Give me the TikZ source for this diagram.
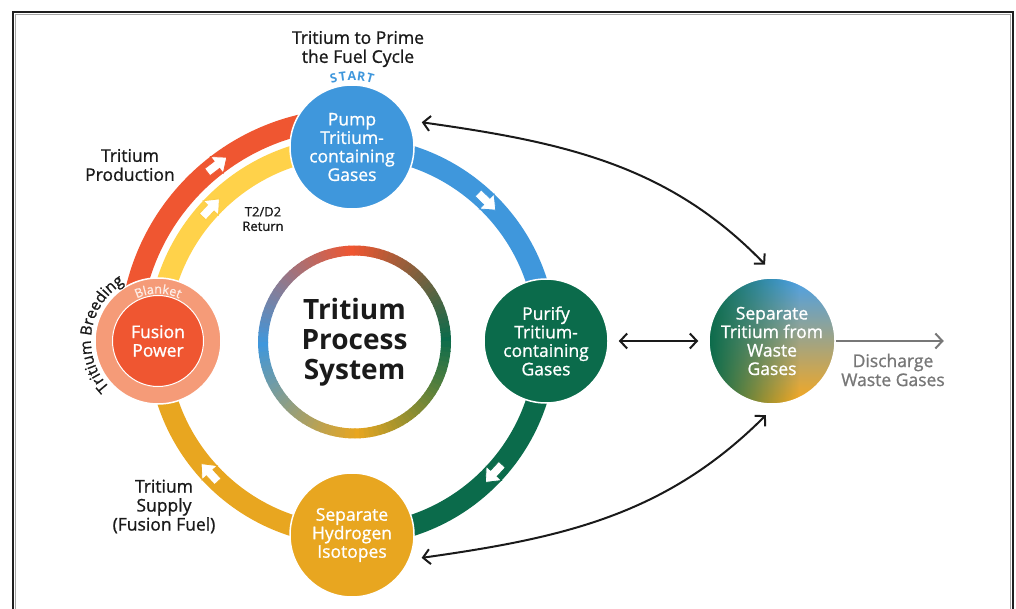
\documentclass[tikz,border=0pt]{standalone}
\usepackage{fontspec}
\setmainfont{Open Sans}
\newfontfamily\medfont{Open Sans}[FakeBold=1.0]
\newcommand\breedfont{\medfont\fontsize{15.5}{15.5}\selectfont}
\newcommand\blanketfont{\medfont\fontsize{12.5}{12.5}\selectfont}
\usetikzlibrary{arrows.meta,positioning,fadings,decorations.text}

\definecolor{tblue}{HTML}{3F97DC}
\definecolor{tgreen}{HTML}{0B6B4B}
\definecolor{tgold}{HTML}{E8A620}
\definecolor{tred}{HTML}{EF5631}
\definecolor{tpeach}{HTML}{F59B78}
\definecolor{tyellow}{HTML}{FFD24A}
\definecolor{tsky}{HTML}{4AA0E8}
\definecolor{torange}{HTML}{F8A81E}
\definecolor{tgray}{HTML}{777777}
\definecolor{tink}{HTML}{1A1A1A}

\tikzset{
  stage/.style={circle, minimum size=124pt, inner sep=0pt, draw=white, line width=1.5pt,
    text=white, align=center, font=\medfont\fontsize{17.5}{18.5}\selectfont},
  band/.style={line width=21pt, color=#1},
  note/.style={align=center, inner sep=0pt, text=tink, font=\medfont\fontsize{17.5}{19}\selectfont},
  link/.style={line width=2pt, draw=tink, {Straight Barb[length=7pt,width=15pt]}-{Straight Barb[length=7pt,width=15pt]}},
  pics/flowmark/.style={code={
    \filldraw[fill=white, draw=#1, line width=0.8pt] (-12,-4.5) -- (0,-4.5) -- (0,-10.5) -- (12.5,0)
      -- (0,10.5) -- (0,4.5) -- (-12,4.5) -- cycle;}},
}

\begin{document}
\begin{tikzpicture}[x=1pt, y=1pt]
  \useasboundingbox (0,0) rectangle (1016,608);
  % frame
  \draw[line width=2.5pt, black!88] (13,596) rectangle (1013,-20);
  \draw[line width=0.8pt, black!35] (15.2,593.8) rectangle (1010.8,-20);

  \coordinate (c) at (352,267);

  % cycle bands
  \draw[band=tblue] ([shift={(90:194)}]c) arc[start angle=90, end angle=0, radius=194];
  \draw[band=tgreen] ([shift={(0:194)}]c) arc[start angle=0, end angle=-90, radius=194];
  \draw[band=tgold] ([shift={(-90:194)}]c) arc[start angle=-90, end angle=-180, radius=194];
  \draw[band=tyellow] ([shift={(180:194)}]c) arc[start angle=180, end angle=90, radius=194];
  \draw[band=tred] ([shift={(172:222)}]c) arc[start angle=172, end angle=86, radius=222];

  % flow markers
  \pic[rotate=37.5] at ([shift={(127.5:222)}]c) {flowmark=tred};
  \pic[rotate=46.7] at ([shift={(136.7:194)}]c) {flowmark=tyellow!85!tgold};
  \pic[rotate=-44] at ([shift={(46:194)}]c) {flowmark=tblue};
  \pic[rotate=-133] at ([shift={(-43:194)}]c) {flowmark=tgreen};
  \pic[rotate=132.8] at ([shift={(222.8:194)}]c) {flowmark=tgold};

  % stations
  \node[stage, fill=tblue] (pump) at ([shift={(90:194)}]c) {Pump\\Tritium-\\containing\\Gases};
  \node[stage, fill=tgreen] (purify) at ([shift={(0:194)}]c) {Purify\\Tritium-\\containing\\Gases};
  \node[stage, fill=tgold] (hyd) at ([shift={(-90:194)}]c) {Separate\\Hydrogen\\Isotopes};
  \node[stage, minimum size=126pt, fill=tpeach] (blanket) at ([shift={(180:194)}]c) {};
  \node[stage, minimum size=91pt, fill=tred, line width=1pt] (fusion) at (blanket) {Fusion\\Power};
  \node[stage, minimum size=126pt, path picture={
      \shade[top color=tsky, bottom color=torange] (path picture bounding box.south west)
        rectangle (path picture bounding box.north east);
      \fill[tgreen, path fading=east] (path picture bounding box.south west)
        rectangle ([xshift=-36pt]path picture bounding box.north east);}]
    (septri) at (772,267) {Separate\\Tritium from\\Waste\\Gases};

  % centre ring
  \node[circle, minimum size=192pt, inner sep=0pt, align=center, text=tink,
    font=\fontsize{28}{30}\selectfont\bfseries] (tps) at (354.5,266) {Tritium\\Process\\System};
  \foreach \cfrom/\cto/\base in {tgreen/tred/0, tred/tblue/90, tblue/tgold/180, tgold/tgreen/270}{
    \foreach \a in {0,3,...,87}{
      \pgfmathsetmacro\mixp{100*\a/90}
      \draw[line width=10pt, color=\cto!\mixp!\cfrom] ([shift={({\base+\a}:91.5)}]tps.center)
        arc[start angle=\base+\a, end angle=\base+\a+3.6, radius=91.5];
    }
  }

  % curved labels
  \path[decorate, decoration={text along path, text align=center, text color=tink,
    text={|\breedfont|Tritium Breeding}}]
    ([shift={(242:67)}]blanket.center) arc[start angle=242, end angle=102, radius=67];
  \path[decorate, decoration={text along path, text align=center, text color=white!82!tpeach,
    text={|\blanketfont|Blanket}}]
    ([shift={(140:47.5)}]blanket.center) arc[start angle=140, end angle=40, radius=47.5];
  \foreach \ch [count=\i] in {S,T,A,R,T}{
    \pgfmathsetmacro\ang{112.5-7.5*\i}
    \node[inner sep=0pt, text=tblue, font=\fontsize{12.5}{12.5}\selectfont\bfseries,
      rotate=\ang-90] (start\i) at ([shift={(\ang:71)}]pump.center) {\ch};
  }

  % exchanges
  \draw[link, shorten <=13pt, shorten >=18pt] (pump.25) to[out=-8, in=134] (septri.85);
  \draw[link, shorten <=10pt, shorten >=10pt] (purify.east) -- (septri.west);
  \draw[link, shorten <=12pt, shorten >=15pt] (hyd.-23) to[out=8, in=-135] (septri.-86);
  \coordinate[right=108pt of septri] (vent);
  \draw[line width=2pt, tgray, -{Straight Barb[length=7pt,width=15pt]}] (septri.east) -- (vent);

  % notes
  \node[note, above=17pt of pump, xshift=6pt] (prime) {Tritium to Prime\\the Fuel Cycle};
  \node[note] (prod) at (130,443) {Tritium\\Production};
  \node[note, font=\medfont\fontsize{13}{14.5}\selectfont] (ret) at (263,389) {T2/D2\\Return};
  \node[note] (supply) at (164,101.5) {Tritium\\Supply\\(Fusion Fuel)};
  \node[note, text=tgray] (waste) at (893,238) {Discharge\\Waste Gases};
\end{tikzpicture}
\end{document}
